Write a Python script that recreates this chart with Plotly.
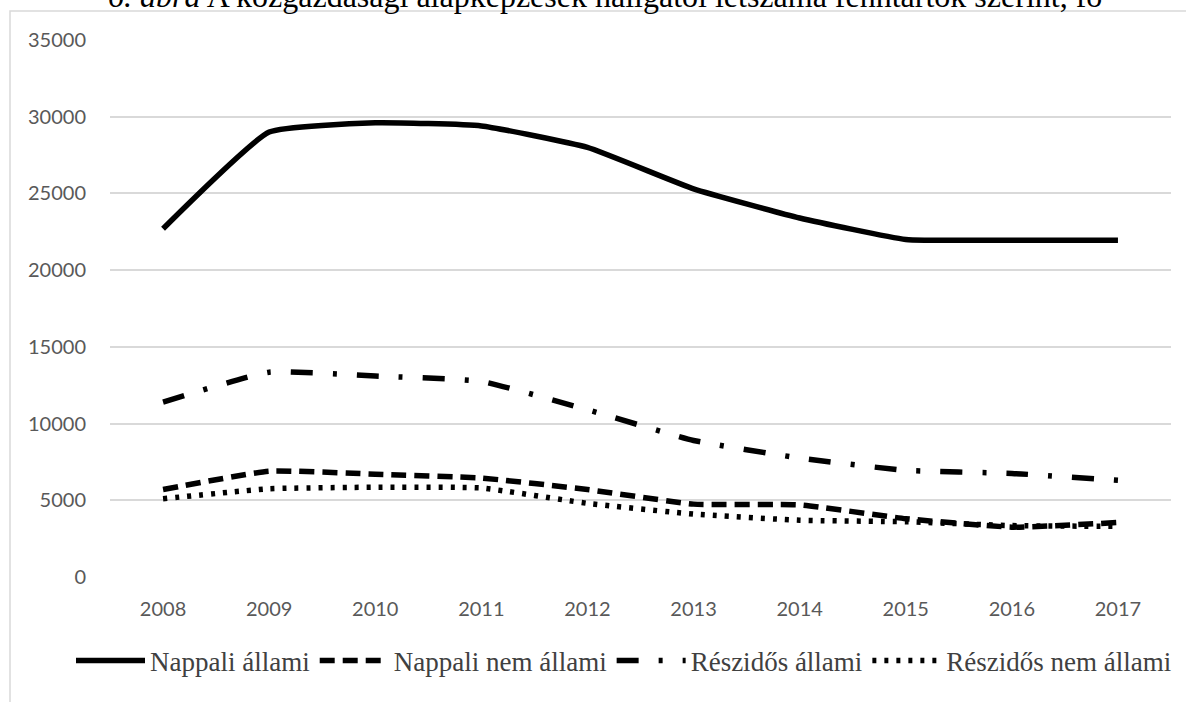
import plotly.graph_objects as go

years = ["2008", "2009", "2010", "2011", "2012", "2013", "2014", "2015", "2016", "2017"]
nappali_allami = [22700, 29000, 29600, 29400, 28000, 25300, 23400, 22000, 21950, 21950]
nappali_nem_allami = [5700, 6900, 6700, 6450, 5700, 4750, 4700, 3800, 3250, 3550]
reszidos_allami = [11400, 13350, 13100, 12750, 10900, 8900, 7750, 6950, 6750, 6300]
reszidos_nem_allami = [5100, 5750, 5850, 5800, 4800, 4100, 3700, 3600, 3350, 3300]

series = [
    ("Nappali állami", nappali_allami, "solid"),
    ("Nappali nem állami", nappali_nem_allami, "15px,8px"),
    ("Részidős állami", reszidos_allami, "22px,20px,4px,20px"),
    ("Részidős nem állami", reszidos_nem_allami, "4px,8px"),
]

fig = go.Figure()
for name, vals, dash in series:
    fig.add_trace(go.Scatter(
        x=years, y=vals, name=name, mode="lines",
        line=dict(color="black", width=5.5, dash=dash, shape="spline", smoothing=0.4),
    ))

W, H = 1186, 702
L, R, T, B = 110, 15, 40, 125
pw, ph = W - L - R, H - T - B

def px(x):
    return (x - L) / pw

def py(y):
    return (H - B - y) / ph

fig.update_layout(
    width=W, height=H,
    margin=dict(l=L, r=R, t=T, b=B, autoexpand=False),
    paper_bgcolor="white", plot_bgcolor="white",
    font=dict(family="Lato, Carlito, sans-serif", size=20, color="#595959"),
    xaxis=dict(type="category", range=[-0.5, 9.5], showgrid=False, showline=False,
               zeroline=False, ticks="", ticklabelstandoff=18, automargin=False,
               tickfont=dict(size=20, color="#595959")),
    yaxis=dict(range=[0, 35000], dtick=5000, showgrid=True, gridcolor="#d9d9d9",
               gridwidth=1.5, zeroline=False, showline=False, ticks="",
               ticklabelstandoff=23, tickformat="d", automargin=False,
               tickfont=dict(size=20, color="#595959")),
    showlegend=True,
    legend=dict(orientation="h", x=px(71), xanchor="left", y=py(661), yanchor="middle",
                font=dict(family="Liberation Serif, Times New Roman, serif", size=27, color="#404040"),
                itemwidth=69, tracegroupgap=0, bgcolor="rgba(0,0,0,0)"),
    shapes=[dict(type="rect", xref="paper", yref="paper",
                 x0=px(10), x1=px(1195), y0=py(715), y1=py(11),
                 line=dict(color="#d9d9d9", width=1.5), fillcolor="rgba(0,0,0,0)", layer="below")],
    annotations=[dict(
        text="<i>6. ábra</i> A közgazdasági alapképzések hallgatói létszáma fenntartók szerint, fő",
        xref="paper", yref="paper", x=px(605), y=py(16), xanchor="center", yanchor="bottom",
        showarrow=False,
        font=dict(family="Liberation Serif, Times New Roman, serif", size=32, color="black"))],
)

fig.write_html("out.html", config={"displayModeBar": False},
               post_script="document.body.style.margin='0px';")
